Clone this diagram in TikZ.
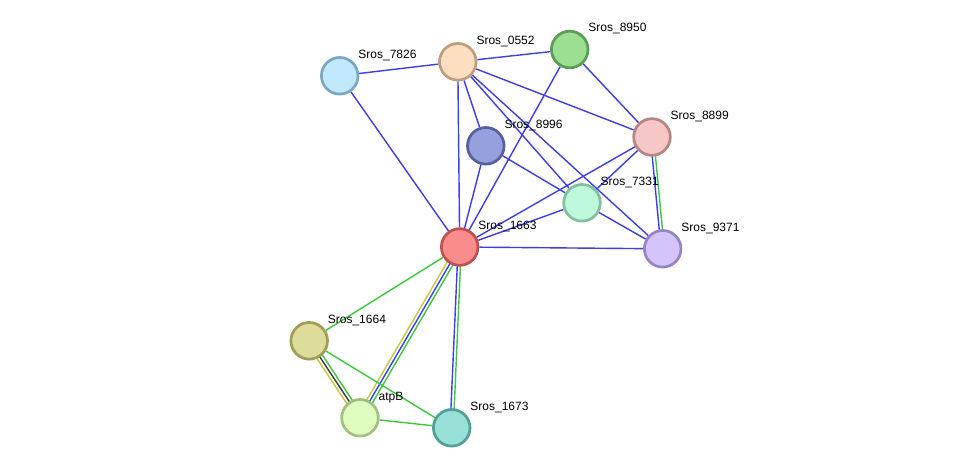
\documentclass[tikz,border=0pt]{standalone}
\usepackage{fontspec}
\setmainfont{Liberation Sans}
\usetikzlibrary{calc}
\pgfdeclarelayer{bg}
\pgfsetlayers{bg,main}
\definecolor{eblue}{RGB}{60,60,240}
\definecolor{egreen}{RGB}{60,200,60}
\definecolor{eyellow}{RGB}{195,200,60}
\definecolor{egray}{RGB}{60,60,60}
\definecolor{f7826}{RGB}{194,232,252}\definecolor{d7826}{RGB}{123,166,196}
\definecolor{f0552}{RGB}{253,222,192}\definecolor{d0552}{RGB}{190,158,126}
\definecolor{f8950}{RGB}{156,222,146}\definecolor{d8950}{RGB}{90,158,85}
\definecolor{f8899}{RGB}{247,198,198}\definecolor{d8899}{RGB}{181,133,133}
\definecolor{f8996}{RGB}{151,160,222}\definecolor{d8996}{RGB}{85,96,160}
\definecolor{f7331}{RGB}{191,249,219}\definecolor{d7331}{RGB}{128,192,158}
\definecolor{f9371}{RGB}{212,196,252}\definecolor{d9371}{RGB}{149,133,192}
\definecolor{f1663}{RGB}{251,140,140}\definecolor{d1663}{RGB}{192,80,80}
\definecolor{f1664}{RGB}{221,220,154}\definecolor{d1664}{RGB}{158,158,85}
\definecolor{fatpB}{RGB}{224,253,192}\definecolor{datpB}{RGB}{160,192,128}
\definecolor{f1673}{RGB}{153,224,214}\definecolor{d1673}{RGB}{80,160,152}
\tikzset{
  prot/.style={circle, minimum size=36.6pt, inner sep=0pt, line width=2.7pt, fill=f#1, draw=d#1},
  plabel/.style={anchor=base west, inner sep=0pt, font=\fontsize{12}{14}\selectfont},
  edge/.style={line width=1.4pt},
}
\newcommand\olink[4]{\draw[edge,#4] ($(#1)!#3!90:(#2)$) -- ($(#2)!#3!-90:(#1)$);}
\begin{document}
\begin{tikzpicture}[x=1pt,y=-1pt]
\useasboundingbox (0,0) rectangle (976,473);
% nodes
\node[prot=7826] (n7826) at (339.7,75.8) {};
\node[prot=0552] (n0552) at (457.8,61.8) {};
\node[prot=8950] (n8950) at (569.7,49.5) {};
\node[prot=8899] (n8899) at (652,137) {};
\node[prot=8996] (n8996) at (485.8,145.8) {};
\node[prot=7331] (n7331) at (582,202.8) {};
\node[prot=9371] (n9371) at (662.7,248.8) {};
\node[prot=1663] (n1663) at (459.7,247) {};
\node[prot=1664] (n1664) at (309.2,340.8) {};
\node[prot=atpB] (natpB) at (360,417.8) {};
\node[prot=1673] (n1673) at (451.7,427.8) {};
% labels
\node[plabel] (l7826) at ($(n7826)+(18.5,-17.5)$) {Sros\_7826};
\node[plabel] (l0552) at ($(n0552)+(18.5,-17.5)$) {Sros\_0552};
\node[plabel] (l8950) at ($(n8950)+(18.5,-17.5)$) {Sros\_8950};
\node[plabel] (l8899) at ($(n8899)+(18.5,-17.5)$) {Sros\_8899};
\node[plabel] (l8996) at ($(n8996)+(18.5,-17.5)$) {Sros\_8996};
\node[plabel] (l7331) at ($(n7331)+(18.5,-17.5)$) {Sros\_7331};
\node[plabel] (l9371) at ($(n9371)+(18.5,-17.5)$) {Sros\_9371};
\node[plabel] (l1663) at ($(n1663)+(18.5,-17.5)$) {Sros\_1663};
\node[plabel] (l1664) at ($(n1664)+(18.5,-17.5)$) {Sros\_1664};
\node[plabel] (latpB) at ($(natpB)+(18.5,-17.5)$) {atpB};
\node[plabel] (l1673) at ($(n1673)+(18.5,-17.5)$) {Sros\_1673};
% edges
\begin{pgfonlayer}{bg}
\fill[white] (0,0) rectangle (976,473);
\draw[edge,eblue] (n7826) -- (n0552);
\draw[edge,eblue] (n7826) -- (n1663);
\draw[edge,eblue] (n0552) -- (n8950);
\draw[edge,eblue] (n0552) -- (n8899);
\draw[edge,eblue] (n0552) -- (n8996);
\draw[edge,eblue] (n0552) -- (n1663);
\draw[edge,eblue] (n0552) -- (n7331);
\draw[edge,eblue] (n0552) -- (n9371);
\draw[edge,eblue] (n8950) -- (n8899);
\draw[edge,eblue] (n8950) -- (n1663);
\draw[edge,eblue] (n8899) -- (n1663);
\draw[edge,eblue] (n8899) -- (n7331);
\olink{n8899}{n9371}{-1.6pt}{eblue}
\olink{n8899}{n9371}{1.6pt}{egreen}
\draw[edge,eblue] (n8996) -- (n1663);
\draw[edge,eblue] (n8996) -- (n7331);
\draw[edge,eblue] (n7331) -- (n1663);
\draw[edge,eblue] (n7331) -- (n9371);
\draw[edge,eblue] (n1663) -- (n9371);
\draw[edge,egreen] (n1663) -- (n1664);
\olink{n1663}{natpB}{-3.2pt}{eyellow}
\olink{n1663}{natpB}{0pt}{eblue}
\olink{n1663}{natpB}{3.2pt}{egreen}
\olink{n1663}{n1673}{-1.6pt}{eblue}
\olink{n1663}{n1673}{1.6pt}{egreen}
\olink{n1664}{natpB}{-3.2pt}{eyellow}
\olink{n1664}{natpB}{0pt}{egray}
\olink{n1664}{natpB}{3.2pt}{egreen}
\draw[edge,egreen] (n1664) -- (n1673);
\draw[edge,egreen] (natpB) -- (n1673);
\end{pgfonlayer}
\end{tikzpicture}
\end{document}
